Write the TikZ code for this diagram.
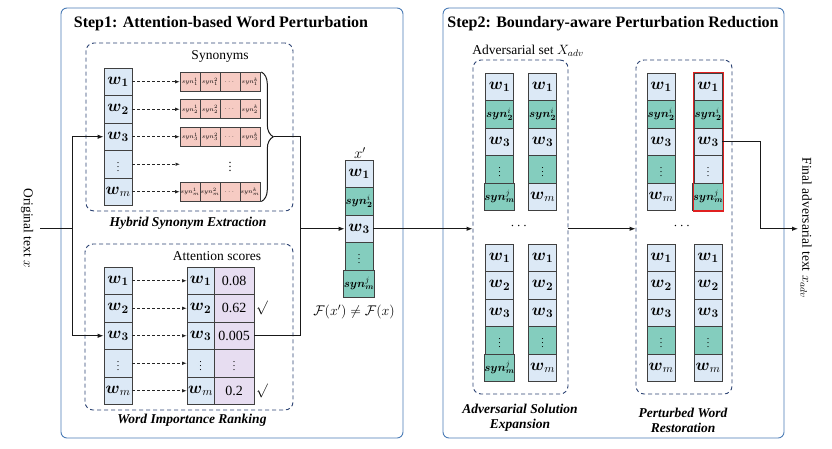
\RequirePackage{fix-cm}
\documentclass[tikz,border=0pt]{standalone}
\usepackage{amsmath,amssymb}
\usepackage{fontspec}
\setmainfont{Liberation Serif}
\usetikzlibrary{arrows.meta,decorations.pathreplacing,calc}
\definecolor{cblue}{HTML}{DCE9F6}
\definecolor{cteal}{HTML}{84CDBE}
\definecolor{cpink}{HTML}{F6CBC3}
\definecolor{cpurp}{HTML}{E7DDF1}
\definecolor{stepc}{HTML}{4A7CB6}
\definecolor{dashc}{HTML}{2B4272}
\definecolor{cellb}{HTML}{404040}
\definecolor{redb}{HTML}{E02020}
\newcommand{\myw}[1]{$\boldsymbol{w}_{\boldsymbol{#1}}$}
\newcommand{\mywm}{$\boldsymbol{w}_{m}$}
\newcommand{\mysyn}[2]{{\fontsize{11.5}{12}\selectfont$\boldsymbol{syn}_{\boldsymbol{#1}}^{#2}$}}
\newcommand{\myvd}{{\fontsize{10}{12}\selectfont$\vdots$}}
\newcommand{\wcol}[4]{\foreach \cc/\tx [count=\i] in {#4}{\node[cell,fill=\cc] (#1\i) at (#2,{#3+27.5*\i-13.75}) {\tx};}}
\tikzset{
  cell/.style={draw=cellb, line width=0.8pt, minimum width=28pt, minimum height=27.5pt, inner sep=0pt, font=\fontsize{16.5}{18}\selectfont},
  syncell/.style={draw=cellb, line width=0.6pt, fill=cpink, minimum width=20pt, minimum height=19pt, inner sep=0pt, font=\fontsize{6}{7}\selectfont},
  stepbox/.style={draw=stepc, line width=0.9pt, rounded corners=6pt, minimum width=342pt, minimum height=430pt},
  dbox/.style={draw=dashc, line width=0.9pt, dash pattern=on 4pt off 3pt, rounded corners=8pt},
  conn/.style={line width=1pt, draw=black!90},
  arr/.style={conn, -{Latex[length=6pt,width=4.5pt]}},
  darr/.style={line width=0.7pt, draw=black!85, dash pattern=on 3pt off 2pt, -{Latex[length=4.5pt,width=3.5pt]}},
  title/.style={font=\fontsize{16}{19}\selectfont\bfseries},
  lab/.style={font=\fontsize{13.5}{16}\selectfont, inner sep=1pt},
  sub/.style={font=\fontsize{13.5}{16}\selectfont\bfseries\itshape, align=center, inner sep=1pt},
}
\begin{document}
\begin{tikzpicture}[x=1pt,y=-1pt]
\fill[white] (0,0) rectangle (832,448);
\useasboundingbox (0,0) rectangle (832,448);
% step boxes
\node[stepbox] (step1) at (232,223) {};
\node[stepbox, minimum width=341pt] (step2) at (613.5,223) {};
\node[title] (t1) at (221,24) {Step1: Attention-based Word Perturbation};
\node[title] (t2) at (613,24) {Step2: Boundary-aware Perturbation Reduction};
% dashed boxes
\node[dbox, minimum width=207pt, minimum height=168pt] (synbox) at (189.5,127) {};
\node[dbox, minimum width=208pt, minimum height=166pt] (attbox) at (189,327) {};
\node[dbox, minimum width=95pt, minimum height=334pt] (advbox) at (520.5,227) {};
\node[dbox, minimum width=96pt, minimum height=334pt] (resbox) at (684,227) {};
% labels
\node[lab] (syns) at (220,56) {Synonyms};
\node[sub] (hse) at (188,223) {Hybrid Synonym Extraction};
\node[lab] (atts) at (217,256) {Attention scores};
\node[sub] (wir) at (192,420) {Word Importance Ranking};
\node[lab, font=\fontsize{15}{17}\selectfont] (xpl) at (360,153) {$x'$};
\node[lab, font=\fontsize{14}{16}\selectfont] (fneq) at (354,312) {$\mathcal{F}(x')\neq\mathcal{F}(x)$};
\node[lab] (advset) at (528,51) {Adversarial set $X_{adv}$};
\node[lab, font=\fontsize{14}{16}\selectfont] (dots1) at (520,226) {$\cdots$};
\node[lab, font=\fontsize{14}{16}\selectfont] (dots2) at (683,226) {$\cdots$};
\node[sub] (ase) at (520,418) {Adversarial Solution\\[-1pt]Expansion};
\node[sub] (pwr) at (683,420) {Perturbed Word\\[-1pt]Restoration};
\node[lab, rotate=-90] (orig) at (27,228) {Original text $x$};
\node[lab, rotate=-90] (final) at (806,228) {Final adversarial text $x_{adv}$};
% step 1 columns
\wcol{a}{118}{68}{cblue/\myw{1},cblue/\myw{2},cblue/\myw{3},cblue/\myvd,cblue/\mywm}
\foreach \r/\s in {1/1,2/2,3/3,5/m}{
  \node[syncell] (s\r1) at ($(a\r)+(72,0)$) {$syn_{\s}^{1}$};
  \node[syncell] (s\r2) at ($(a\r)+(92,0)$) {$syn_{\s}^{2}$};
  \node[syncell] (s\r3) at ($(a\r)+(112,0)$) {$\cdots$};
  \node[syncell] (s\r4) at ($(a\r)+(132,0)$) {$syn_{\s}^{k}$};
  \draw[darr] (a\r.east) -- (s\r1.west);
}
\node[font=\fontsize{12}{14}\selectfont] (sdots) at ($(a4)+(112,0)$) {$\vdots$};
\coordinate (s4in) at ($(a4)+(62,0)$);
\draw[darr] (a4.east) -- (s4in);
\draw[conn, decorate, decoration={brace, amplitude=12pt}] ($(s14.north east)+(1,0)$) -- ($(s54.south east)+(1,0)$);
\wcol{b}{118}{267}{cblue/\myw{1},cblue/\myw{2},cblue/\myw{3},cblue/\myvd,cblue/\mywm}
\foreach \tx [count=\i] in {\myw{1},\myw{2},\myw{3},\myvd,\mywm}{
  \node[cell, fill=cblue, minimum width=27pt] (c\i) at (200.5,{267+27.5*\i-13.75}) {\tx};
  \draw[darr] (b\i.east) -- (c\i.west);
}
\foreach \tx [count=\i] in {0.08,0.62,0.005,\myvd,0.2}{
  \node[cell, fill=cpurp, minimum width=40pt, font=\fontsize{14}{16}\selectfont] (d\i) at (234,{267+27.5*\i-13.75}) {\tx};
}
\node[font=\fontsize{14}{16}\selectfont] (ck2) at (262,0 |- d2) {$\surd$};
\node[font=\fontsize{14}{16}\selectfont] (ck5) at (262,0 |- d5) {$\surd$};
% x' column
\wcol{xp}{359}{160}{cblue/\myw{1},cteal/\mysyn{2}{i},cblue/\myw{3},cteal/\myvd,cteal/\mysyn{m}{j}}
% step 2 columns
\wcol{pA}{499.5}{73}{cblue/\myw{1},cteal/\mysyn{2}{i},cblue/\myw{3},cteal/\myvd,cteal/\mysyn{m}{j}}
\wcol{pB}{542.5}{73}{cblue/\myw{1},cteal/\mysyn{2}{i},cblue/\myw{3},cteal/\myvd,cblue/\mywm}
\wcol{pC}{499.5}{244}{cblue/\myw{1},cblue/\myw{2},cblue/\myw{3},cteal/\myvd,cteal/\mysyn{m}{j}}
\wcol{pD}{542.5}{244}{cblue/\myw{1},cblue/\myw{2},cblue/\myw{3},cteal/\myvd,cblue/\mywm}
\wcol{pE}{661}{73}{cblue/\myw{1},cteal/\mysyn{2}{i},cblue/\myw{3},cteal/\myvd,cblue/\mywm}
\wcol{pF}{708}{73}{cblue/\myw{1},cteal/\mysyn{2}{i},cblue/\myw{3},cblue/\myvd,cteal/\mysyn{m}{j}}
\wcol{pG}{661}{244}{cblue/\myw{1},cblue/\myw{2},cblue/\myw{3},cteal/\myvd,cblue/\mywm}
\wcol{pH}{708}{244}{cblue/\myw{1},cblue/\myw{2},cblue/\myw{3},cteal/\myvd,cblue/\mywm}
\draw[draw=redb, line width=1.6pt] (pF1.north west) rectangle (pF5.south east);
% connectors
\coordinate (o1) at (40,228.75);
\coordinate (sp) at (72,228.75);
\draw[conn] (o1) -- (sp);
\draw[arr] (sp) |- (a3.west);
\draw[arr] (sp) |- (b3.west);
\coordinate (bt) at (274,0 |- a3);
\coordinate (jx) at (300,0 |- xp3);
\draw[conn] (bt) -| (jx);
\draw[conn] (d3.east) -| (jx);
\draw[arr] (jx) -- (xp3.west);
\draw[arr] (xp3.east) -- (xp3.east -| advbox.west);
\draw[arr] (advbox.east |- xp3) -- (resbox.west |- xp3);
\coordinate (fe) at (798,0 |- xp3);
\coordinate (fk) at (760,0 |- xp3);
\draw[arr] (pF3.east) -| (fk) -- (fe);
\end{tikzpicture}
\end{document}
